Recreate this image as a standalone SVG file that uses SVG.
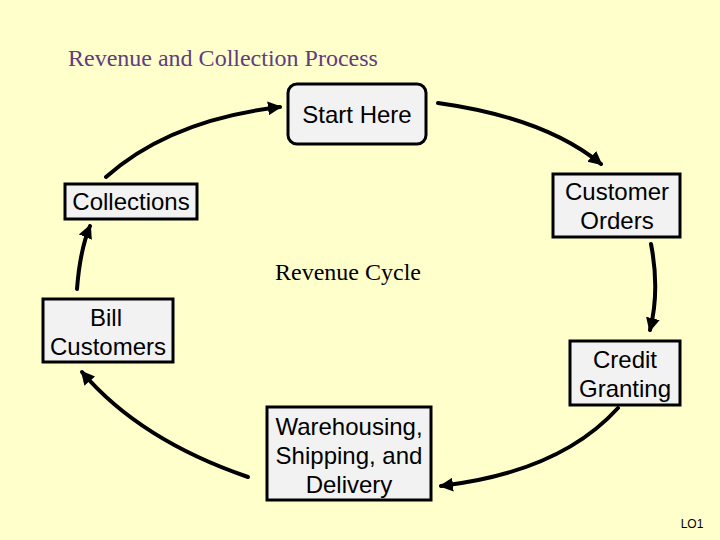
<svg xmlns="http://www.w3.org/2000/svg" width="720" height="540" viewBox="0 0 720 540">
<style>
.box{fill:#F2F2F2;stroke:#000;stroke-width:3}
.t{font-family:"Liberation Sans",Arial,sans-serif;font-size:24px;fill:#000;text-anchor:middle}
.c{fill:none;stroke:#000;stroke-width:4;stroke-linecap:round}
.serif{font-family:"Liberation Serif","Times New Roman",serif;font-size:24px}
</style>
<defs>
<marker id="ah" markerUnits="userSpaceOnUse" markerWidth="16" markerHeight="16" refX="12" refY="7" orient="auto">
<path d="M0,0 L14,7 L0,14 Z" fill="#000"/>
</marker>
</defs>
<rect width="720" height="540" fill="#FFFFCC"/>
<text class="serif" x="68" y="66" fill="#603C80">Revenue and Collection Process</text>
<text class="serif" x="275" y="280" fill="#000">Revenue Cycle</text>
<g id="connectors">
<path class="c" d="M438,103 Q545,118 601,164" marker-end="url(#ah)"/>
<path class="c" d="M651,244 Q660,290 650,330" marker-end="url(#ah)"/>
<path class="c" d="M618,408 Q560,472 441,486" marker-end="url(#ah)"/>
<path class="c" d="M248,477 Q140,440 82,372" marker-end="url(#ah)"/>
<path class="c" d="M77,289 Q80,250 90,226" marker-end="url(#ah)"/>
<path class="c" d="M106,177 Q170,120 280,107" marker-end="url(#ah)"/>
</g>
<g id="start">
<rect class="box" x="288" y="84" width="138" height="60" rx="9"/>
<text class="t" x="357" y="123">Start Here</text>
</g>
<g id="orders">
<rect class="box" x="553" y="174" width="127" height="63"/>
<text class="t" x="617" y="200">Customer</text>
<text class="t" x="617" y="229">Orders</text>
</g>
<g id="credit">
<rect class="box" x="570" y="341" width="110" height="64"/>
<text class="t" x="625" y="368">Credit</text>
<text class="t" x="625" y="397">Granting</text>
</g>
<g id="warehousing">
<rect class="box" x="267" y="407" width="164" height="93"/>
<text class="t" x="349" y="435">Warehousing,</text>
<text class="t" x="349" y="464">Shipping, and</text>
<text class="t" x="349" y="493">Delivery</text>
</g>
<g id="bill">
<rect class="box" x="43" y="299" width="130" height="63"/>
<text class="t" x="106" y="326">Bill</text>
<text class="t" x="108" y="355">Customers</text>
</g>
<g id="collections">
<rect class="box" x="65" y="184" width="132" height="35"/>
<text class="t" x="131" y="210">Collections</text>
</g>
<text x="692" y="528" font-family="'Liberation Sans',Arial,sans-serif" font-size="12" text-anchor="middle">LO1</text>
</svg>
